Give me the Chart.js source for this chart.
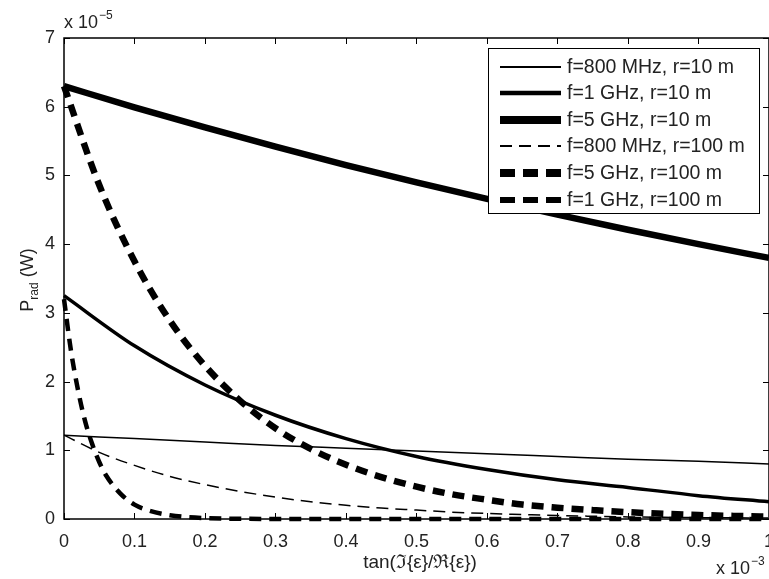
<!DOCTYPE html>
<html>
<head>
<meta charset="utf-8">
<script src="https://cdn.jsdelivr.net/npm/chart.js@4.4.0/dist/chart.umd.min.js"></script>
<style>
html, body { margin: 0; padding: 0; background: #fff; overflow: hidden; }
#wrap { position: relative; width: 786px; height: 579px; }
</style>
</head>
<body>
<div id="wrap"><canvas id="radChart"></canvas></div>
<script>
// x: tan(Im/Re) in units of 1e-3, y: P_rad in units of 1e-5 W
const xTenth = [0, 0.1, 0.2, 0.3, 0.4, 0.5, 0.6, 0.7, 0.8, 0.9, 1];
const xHalfTenth = [0, 0.05, 0.1, 0.15, 0.2, 0.25, 0.3, 0.35, 0.4, 0.45, 0.5, 0.55, 0.6, 0.65, 0.7, 0.75, 0.8, 0.85, 0.9, 0.95, 1];
const xSteep = [0, 0.01, 0.02, 0.03, 0.04, 0.05, 0.06, 0.08, 0.1, 0.12, 0.15, 0.2, 0.3, 0.5, 0.7, 1];

const p800r10 = [1.22, 1.17, 1.12, 1.07, 1.03, 0.99, 0.95, 0.91, 0.87, 0.84, 0.80];
const p1gr10 = [3.25, 2.52, 1.95, 1.51, 1.17, 0.91, 0.72, 0.57, 0.46, 0.34, 0.25];
const p5gr10 = [6.30, 5.99, 5.70, 5.42, 5.15, 4.90, 4.66, 4.43, 4.21, 4.00, 3.80];
const p800r100 = [1.22, 0.97, 0.78, 0.62, 0.50, 0.40, 0.32, 0.25, 0.20, 0.16, 0.13, 0.10, 0.08, 0.065, 0.05, 0.04, 0.03, 0.025, 0.02, 0.017, 0.014];
const p5gr100 = [6.30, 4.86, 3.75, 2.89, 2.23, 1.72, 1.32, 1.02, 0.79, 0.61, 0.47, 0.36, 0.28, 0.21, 0.165, 0.13, 0.10, 0.076, 0.058, 0.045, 0.035];
const p1gr100 = [3.20, 2.44, 1.87, 1.42, 1.09, 0.83, 0.63, 0.37, 0.21, 0.125, 0.056, 0.014, 0.001, 0, 0, 0];

const seriesLabels = ['f=800 MHz, r=10 m', 'f=1 GHz, r=10 m', 'f=5 GHz, r=10 m',
                      'f=800 MHz, r=100 m', 'f=5 GHz, r=100 m', 'f=1 GHz, r=100 m'];

const FONT = 'Arial, "Liberation Sans", sans-serif';
const TXT = '#222';

function pts(xs, ys) {
    return xs.map((x, i) => ({ x: x, y: ys[i] }));
}

// Рамка, внутренние засечки, подписи осей и легенда внутри графика
const matlabPlugin = {
    id: 'matlab',
    beforeDatasetsDraw(chart) {
        const { ctx, chartArea: a, scales } = chart;
        ctx.save();
        ctx.strokeStyle = '#000';
        ctx.lineWidth = 1;
        const tl = 6;
        for (let i = 0; i <= 10; i++) {
            const px = Math.round(scales.x.getPixelForValue(i / 10)) + 0.5;
            ctx.beginPath();
            ctx.moveTo(px, a.bottom); ctx.lineTo(px, a.bottom - tl);
            ctx.moveTo(px, a.top); ctx.lineTo(px, a.top + tl);
            ctx.stroke();
        }
        for (let v = 0; v <= 7; v++) {
            const py = Math.round(scales.y.getPixelForValue(v)) + 0.5;
            ctx.beginPath();
            ctx.moveTo(a.left, py); ctx.lineTo(a.left + tl, py);
            ctx.moveTo(a.right, py); ctx.lineTo(a.right - tl, py);
            ctx.stroke();
        }
        ctx.restore();
    },
    afterDatasetsDraw(chart) {
        const { ctx, chartArea: a } = chart;
        ctx.save();
        // рамка
        ctx.strokeStyle = '#000';
        ctx.lineWidth = 1.5;
        ctx.strokeRect(a.left, a.top, a.right - a.left, a.bottom - a.top);

        // множители осей
        ctx.fillStyle = TXT;
        ctx.textBaseline = 'alphabetic';
        ctx.textAlign = 'left';
        ctx.font = '18px ' + FONT;
        ctx.fillText('x 10', 64, 28);
        let w = ctx.measureText('x 10').width;
        ctx.font = '12px ' + FONT;
        ctx.fillText('\u22125', 64 + w + 1, 19);

        ctx.font = '18px ' + FONT;
        ctx.fillText('x 10', 716, 574);
        w = ctx.measureText('x 10').width;
        ctx.font = '12px ' + FONT;
        ctx.fillText('\u22123', 716 + w + 1, 565);

        // подпись оси X
        ctx.font = '19px ' + FONT;
        ctx.textAlign = 'center';
        ctx.fillText('tan(\u2111{\u03b5}/\u211c{\u03b5})', 420, 568);

        // подпись оси Y: P_rad (W)
        ctx.translate(33, 280);
        ctx.rotate(-Math.PI / 2);
        ctx.textAlign = 'left';
        ctx.font = '18px ' + FONT;
        const wP = ctx.measureText('P').width;
        ctx.font = '12px ' + FONT;
        const wRad = ctx.measureText('rad').width;
        ctx.font = '18px ' + FONT;
        const wW = ctx.measureText(' (W)').width;
        let sx = -(wP + wRad + wW) / 2;
        ctx.fillText('P', sx, 0);
        ctx.font = '12px ' + FONT;
        ctx.fillText('rad', sx + wP, 5);
        ctx.font = '18px ' + FONT;
        ctx.fillText(' (W)', sx + wP + wRad, 0);
        ctx.setTransform(1, 0, 0, 1, 0, 0);
        ctx.scale(chart.currentDevicePixelRatio, chart.currentDevicePixelRatio);

        // легенда
        const bx = 488, by = 48, bw = 271, bh = 165;
        ctx.fillStyle = '#fff';
        ctx.fillRect(bx, by, bw, bh);
        ctx.strokeStyle = '#000';
        ctx.lineWidth = 1;
        ctx.strokeRect(bx + 0.5, by + 0.5, bw, bh);
        const rowY = [67, 93, 120, 146, 173, 200];
        ctx.font = '19.5px ' + FONT;
        ctx.textAlign = 'left';
        ctx.textBaseline = 'middle';
        chart.data.datasets.forEach((ds, i) => {
            const y = rowY[i];
            ctx.save();
            ctx.strokeStyle = '#000';
            ctx.lineWidth = ds.legendWidth;
            ctx.setLineDash(ds.legendDash || []);
            ctx.lineCap = 'butt';
            ctx.beginPath();
            ctx.moveTo(500, y); ctx.lineTo(561, y);
            ctx.stroke();
            ctx.restore();
            ctx.fillStyle = TXT;
            ctx.fillText(ds.label, 567, y + 1);
        });
        ctx.restore();
    }
};

const ctx = document.getElementById('radChart').getContext('2d');
const chart = new Chart(ctx, {
    type: 'line',
    data: {
        datasets: [
            { label: seriesLabels[0], data: pts(xTenth, p800r10), borderWidth: 1.5, legendWidth: 2 },
            { label: seriesLabels[1], data: pts(xTenth, p1gr10), borderWidth: 3.5, legendWidth: 4.5 },
            { label: seriesLabels[2], data: pts(xTenth, p5gr10), borderWidth: 6.5, legendWidth: 8 },
            { label: seriesLabels[3], data: pts(xHalfTenth, p800r100), borderWidth: 1.5, borderDash: [12, 7], legendWidth: 2, legendDash: [12, 7] },
            { label: seriesLabels[4], data: pts(xHalfTenth, p5gr100), borderWidth: 6.5, borderDash: [12, 8], legendWidth: 8, legendDash: [15, 8] },
            { label: seriesLabels[5], data: pts(xSteep, p1gr100), borderWidth: 4.5, borderDash: [12, 8], legendWidth: 6, legendDash: [15, 8] }
        ].map(ds => Object.assign({
            borderColor: '#000',
            backgroundColor: '#000',
            pointRadius: 0,
            fill: false,
            cubicInterpolationMode: 'monotone',
            clip: 4
        }, ds))
    },
    options: {
        responsive: true,
        maintainAspectRatio: false,
        animation: false,
        layout: { padding: { top: 38, left: 0, right: 0, bottom: 0 } },
        plugins: {
            legend: { display: false },
            tooltip: { enabled: false }
        },
        scales: {
            x: {
                type: 'linear',
                min: 0,
                max: 1,
                grid: { display: false, drawTicks: false },
                border: { display: false },
                ticks: {
                    stepSize: 0.1,
                    padding: 12,
                    color: TXT,
                    font: { family: FONT, size: 18 },
                    maxRotation: 0,
                    callback: v => String(+v.toFixed(1))
                },
                afterFit: s => { s.height = 60; }
            },
            y: {
                type: 'linear',
                min: 0,
                max: 7,
                grid: { display: false, drawTicks: false },
                border: { display: false },
                ticks: {
                    stepSize: 1,
                    padding: 9,
                    color: TXT,
                    font: { family: FONT, size: 18 }
                },
                afterFit: s => { s.width = 64; }
            }
        }
    },
    plugins: [matlabPlugin]
});
</script>
</body>
</html>
